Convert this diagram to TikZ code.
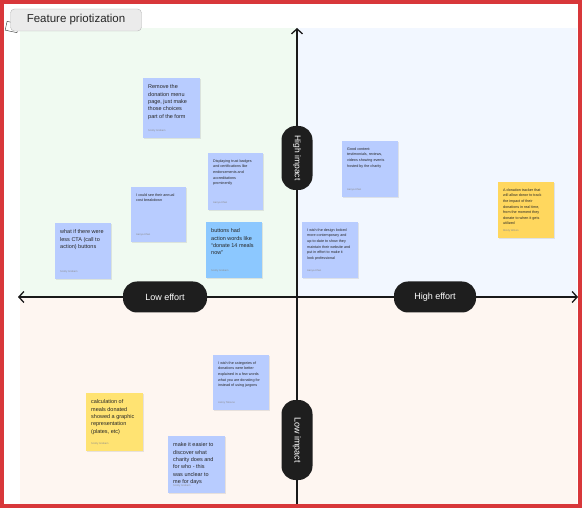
\documentclass[tikz,border=0pt]{standalone}
\usepackage{fontspec}
\setmainfont{Liberation Sans}
\usetikzlibrary{arrows.meta,shadows}
\definecolor{frame}{HTML}{D8373A}
\definecolor{qtl}{HTML}{F0FAF1}
\definecolor{qtr}{HTML}{F2F7FF}
\definecolor{qb}{HTML}{FEF6F1}
\definecolor{sblue}{HTML}{B8CCFF}
\definecolor{sazure}{HTML}{8CC8FF}
\definecolor{syel}{HTML}{FFD75E}
\definecolor{syel2}{HTML}{FFE372}
\definecolor{pill}{HTML}{1E1E1E}
\definecolor{titlefill}{HTML}{EBEBEB}
\definecolor{titleline}{HTML}{B8B8B8}
\newcommand\mysticky[9]{%
  \node[stickynote, fill=#6, minimum width=#4, minimum height=#5, anchor=north west] (#1) at (#2,#3) {};
  \node[#7, anchor=north west] (#1-t) at ([xshift=5pt,yshift=-6.5pt]#1.north west) {#8};
  \node[authortext, anchor=south west] (#1-a) at ([xshift=5pt,yshift=6pt]#1.south west) {#9};
}
\begin{document}
\begin{tikzpicture}[x=1pt,y=-1pt,
  stickynote/.style={draw=none, inner sep=0pt,
    drop shadow={shadow xshift=0.4pt, shadow yshift=-0.8pt, opacity=0.18}},
  bigtext/.style={inner sep=0pt, align=left, font=\fontsize{5.5}{7.4}\selectfont, text=black!85},
  smalltext/.style={inner sep=0pt, align=left, font=\fontsize{3.7}{5.6}\selectfont, text=black!85},
  authortext/.style={inner sep=0pt, font=\fontsize{2.6}{3}\selectfont, text=black!45},
  pillnode/.style={fill=pill, text=white, rounded corners=14pt, inner sep=0pt,
    minimum height=31pt, font=\fontsize{9}{10}\selectfont},
  axis/.style={line width=1.4pt, draw=black!90},
  axtip/.style={-{Straight Barb[length=5pt,width=11pt,line width=1.3pt]}}
]
\useasboundingbox (0,0) rectangle (582,508);
% background
\fill[white] (0,0) rectangle (582,508);
\fill[qtl] (20,28) rectangle (297,297);
\fill[qtr] (297,28) rectangle (577,297);
\fill[qb] (20,297) rectangle (577,505);
% title
\node[draw=black!80, fill=white, rotate=-12, minimum width=12pt, minimum height=9pt, inner sep=0pt] (icon) at (12,27) {};
\node[draw=titleline, fill=titlefill, rounded corners=4pt, minimum width=131pt, minimum height=22pt,
  inner sep=0pt, font=\fontsize{11.5}{12}\selectfont, text=black!85] (title) at (76,20) {Feature priotization};
% axes
\coordinate (L) at (18,297);
\coordinate (R) at (578,297);
\coordinate (T) at (297,28);
\coordinate (B) at (297,506);
\coordinate (O) at (297,297);
\draw[axis, axtip] (O) -- (L);
\draw[axis, axtip] (O) -- (R);
\draw[axis, axtip] (O) -- (T);
\draw[axis] (O) -- (B);
% pills
\node[pillnode, minimum width=84pt] (loweff) at (165,297) {Low effort};
\node[pillnode, minimum width=82pt] (higheff) at (435,297) {High effort};
\node[pillnode, minimum width=64pt, rotate=-90, font=\fontsize{8.5}{10}\selectfont] (highimp) at (297,158) {High impact};
\node[pillnode, minimum width=80pt, rotate=-90] (lowimp) at (297,440) {Low impact};
% stickies
\mysticky{s1}{143}{78}{57}{60}{sblue}{bigtext}{Remove the\\donation menu\\page, just make\\those choices\\part of the form}{Scotty Graham}
\mysticky{s2}{208}{153}{55}{57}{sblue}{smalltext}{Displaying trust badges\\and certifications like\\endorsements and\\accreditations\\prominently}{Aanya Khan}
\mysticky{s3}{131}{187}{55}{55}{sblue}{smalltext}{I could see their annual\\cost breakdown}{Aanya Khan}
\mysticky{s4}{55}{223}{56}{56}{sblue}{bigtext}{what if there were\\less CTA (call to\\action) buttons}{Scotty Graham}
\mysticky{s5}{206}{222}{56}{56}{sazure}{bigtext}{buttons had\\action words like\\“donate 14 meals\\now”}{Scotty Graham}
\mysticky{s6}{342}{141}{56}{56}{sblue}{smalltext}{Good content:\\testimonials, reviews,\\videos showing events\\hosted by the charity}{Aanya Khan}
\mysticky{s7}{302}{222}{56}{56}{sblue}{smalltext}{I wish the design looked\\more contemporary and\\up-to-date to show they\\maintain their website and\\put in effort to make it\\look professional}{Aanya Khan}
\mysticky{s8}{498}{182}{56}{56}{syel}{smalltext}{A donation tracker that\\will allow donor to track\\the impact of their\\donations in real time,\\from the moment they\\donate to when it gets\\utilized}{Mindy Wilson}
\mysticky{s9}{213}{355}{56}{55}{sblue}{smalltext}{I wish the categories of\\donations were better\\explained in a few words\\what you are donating for\\instead of using jargons}{Jenny Tatsuno}
\mysticky{s10}{86}{393}{57}{58}{syel2}{bigtext}{calculation of\\meals donated\\showed a graphic\\representation\\(plates, etc)}{Scotty Graham}
\mysticky{s11}{168}{436}{57}{57}{sblue}{bigtext}{make it easier to\\discover what\\charity does and\\for who - this\\was unclear to\\me for days}{Scotty Graham}
% frame
\draw[frame, line width=4pt] (2,2) rectangle (580,506);
\end{tikzpicture}
\end{document}
